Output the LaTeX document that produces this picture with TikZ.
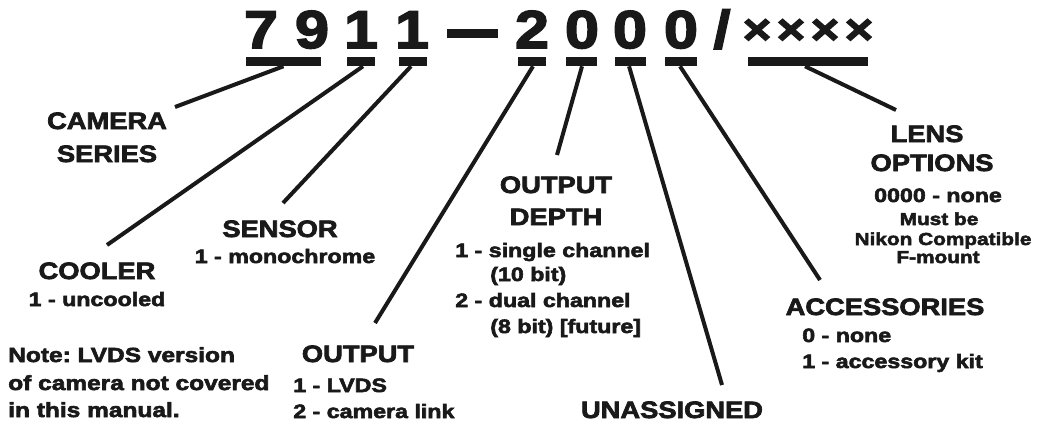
\documentclass[tikz,border=0pt]{standalone}
\usepackage{fontspec}
\newfontfamily\blk{Liberation Sans Bold}[FakeBold=3,FakeStretch=1.15]
\newfontfamily\blks{Liberation Sans Bold}[FakeBold=3,FakeStretch=1.2]
\newcommand{\bigf}{\blk\fontsize{40}{40}\selectfont}
\newcommand{\xf}{\blk\fontsize{32}{32}\selectfont}
\newcommand{\lblf}{\blk\fontsize{17.8}{20}\selectfont}
\newcommand{\subf}{\blks\fontsize{14.5}{16}\selectfont\frenchspacing}
\newcommand{\notef}{\blks\fontsize{15.3}{16}\selectfont\frenchspacing}
\newcommand{\smf}{\blks\fontsize{13}{14}\selectfont}
\begin{document}
\begin{tikzpicture}[x=0.75pt,y=-0.75pt,
  dig/.style={font=\bigf,inner sep=0,anchor=base,text=black!90},
  xs/.style={font=\xf,inner sep=0,anchor=base,text=black!90},
  lbl/.style={font=\lblf,inner sep=0,anchor=base,text=black!90},
  subl/.style={font=\subf,inner sep=0,anchor=base west,text=black!90},
  notel/.style={font=\notef,inner sep=0,anchor=base west,text=black!90},
  subc/.style={font=\subf,inner sep=0,anchor=base,text=black!90},
  smc/.style={font=\smf,inner sep=0,anchor=base,text=black!90},
  bar/.style={fill=black!90,inner sep=0,minimum height=6.75pt},
  conn/.style={line width=3pt,draw=black!90}]
\useasboundingbox (0,0) rectangle (1037,425);
% code digits
\node[dig] (d7) at (261,48) {7};
\node[dig] (d9) at (312,48) {9};
\node[dig] (d1a) at (361,48) {1};
\node[dig] (d1b) at (412,48) {1};
\node[bar,minimum width=38pt] (dash) at (472.5,33) {};
\node[dig] (d2) at (532,48) {2};
\node[dig] (d0a) at (582,48) {0};
\node[dig] (d0b) at (630,48) {0};
\node[dig] (d0c) at (681,48) {0};
\node[dig] (sl) at (722,48) {/};
\node[xs] (xx) at (808,44) {×\kern4pt×\kern4pt×\kern4pt×};
% bars
\node[bar,minimum width=56.25pt] (b79) at (283.5,61.5) {};
\node[bar,minimum width=21pt] (b1a) at (361,61.5) {};
\node[bar,minimum width=21pt] (b1b) at (413,61.5) {};
\node[bar,minimum width=21pt] (b2) at (532,61.5) {};
\node[bar,minimum width=23.25pt] (b0a) at (581.5,61.5) {};
\node[bar,minimum width=23.25pt] (b0b) at (630.5,61.5) {};
\node[bar,minimum width=24pt] (b0c) at (681,61.5) {};
\node[bar,minimum width=90pt] (bxx) at (808,61.5) {};
% connector ends
\coordinate (eCam) at (175,107);
\coordinate (eCool) at (107,245);
\coordinate (eSens) at (283,203);
\coordinate (eOut) at (375,323);
\coordinate (eDep) at (557,155);
\coordinate (eUn) at (722,385);
\coordinate (eAcc) at (820,280);
\coordinate (eLens) at (896,110);
\draw[conn] (b79.south) -- (eCam);
\draw[conn] ([xshift=1.5pt]b1a.south) -- (eCool);
\draw[conn] ([xshift=-1.5pt]b1b.south) -- (eSens);
\draw[conn] ([xshift=0.75pt]b2.south) -- (eOut);
\draw[conn] ([xshift=0.4pt]b0a.south) -- (eDep);
\draw[conn] ([xshift=-1.1pt]b0b.south) -- (eUn);
\draw[conn] ([xshift=-0.75pt]b0c.south) -- (eAcc);
\draw[conn] ([xshift=-2.25pt]bxx.south) -- (eLens);
% labels
\node[lbl] (cam1) at (107,129) {CAMERA};
\node[lbl] (cam2) at (107,162) {SERIES};
\node[lbl] (cool) at (97,279) {COOLER};
\node[subc] (cool1) at (97,306) {1 - uncooled};
\node[lbl] (sens) at (280,237) {SENSOR};
\node[subc] (sens1) at (285,263) {1 - monochrome};
\node[notel] (n1) at (8,362) {Note: LVDS version};
\node[notel] (n2) at (8,390) {of camera not covered};
\node[notel] (n3) at (8,417) {in this manual.};
\node[lbl] (out) at (358,362) {OUTPUT};
\node[subl] (out1) at (293,392) {1 - LVDS};
\node[subl] (out2) at (293,418) {2 - camera link};
\node[lbl] (dep1) at (556,193) {OUTPUT};
\node[lbl] (dep2) at (556,225) {DEPTH};
\node[subl] (dep3) at (455,257) {1 - single channel};
\node[subl] (dep4) at (490,281) {(10 bit)};
\node[subl] (dep5) at (455,307) {2 - dual channel};
\node[subl] (dep6) at (490,333) {(8 bit) [future]};
\node[lbl] (un) at (672,418) {UNASSIGNED};
\node[lbl] (acc) at (885,315) {ACCESSORIES};
\node[subl] (acc1) at (802,342) {0 - none};
\node[subl] (acc2) at (802,368) {1 - accessory kit};
\node[lbl] (lens1) at (927,142) {LENS};
\node[lbl] (lens2) at (932,171) {OPTIONS};
\node[subc] (lens3) at (938,202) {0000 - none};
\node[smc] (lens4) at (939,225) {Must be};
\node[smc] (lens5) at (943,245) {Nikon Compatible};
\node[smc] (lens6) at (938,263) {F-mount};
\end{tikzpicture}
\end{document}
